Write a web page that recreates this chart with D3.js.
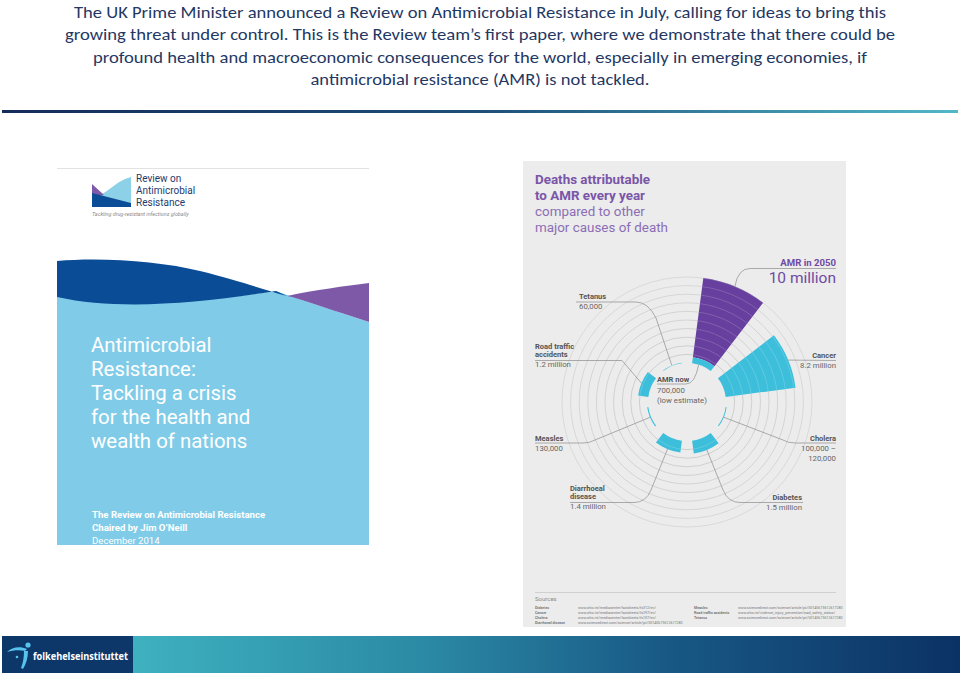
<!DOCTYPE html>
<meta charset="utf-8">
<style>
body { margin: 0; background: #fff; }
svg { display: block; }
.hdr { font-family: Carlito, Lato, sans-serif; font-size: 16.5px; fill: #1f3864; }
.ig { font-family: Roboto, 'Open Sans', sans-serif; }
.lab { font-weight: bold; font-size: 7.5px; fill: #555; }
.val { font-size: 7.8px; fill: #666; }
.lead { fill: none; stroke: #8c8c8c; stroke-width: 0.7; }
.src { font-size: 3.6px; fill: #777; }
</style>
<body>
<script src="https://d3js.org/d3.v7.min.js"></script>
<script>
// ---- data ----
var causes = ["AMR", "Cancer", "Cholera", "Diabetes", "Diarrhoeal disease", "Measles", "Road traffic accidents", "Tetanus"];
var deathsNow = [0.7, 8.2, 0.11, 1.5, 1.4, 0.13, 1.2, 0.06];   // millions per year
var amr2050 = 10;                                               // millions per year
var headerLines = [
  "The UK Prime Minister announced a Review on Antimicrobial Resistance in July, calling for ideas to bring this",
  "growing threat under control. This is the Review team\u2019s first paper, where we demonstrate that there could be",
  "profound health and macroeconomic consequences for the world, especially in emerging economies, if",
  "antimicrobial resistance (AMR) is not tackled."
];
var coverTitle = ["Antimicrobial", "Resistance:", "Tackling a crisis", "for the health and", "wealth of nations"];
var sourcesLeft = [
  ["Diabetes", "www.who.int/mediacentre/factsheets/fs312/en/"],
  ["Cancer", "www.who.int/mediacentre/factsheets/fs297/en/"],
  ["Cholera", "www.who.int/mediacentre/factsheets/fs107/en/"],
  ["Diarrhoeal disease", "www.sciencedirect.com/science/article/pii/S0140673612617280"]
];
var sourcesRight = [
  ["Measles", "www.sciencedirect.com/science/article/pii/S0140673612617280"],
  ["Road traffic accidents", "www.who.int/violence_injury_prevention/road_safety_status/"],
  ["Tetanus", "www.sciencedirect.com/science/article/pii/S0140673612617280"]
];

var W = 960, H = 674;
var svg = d3.select('body').append('svg').attr('width', W).attr('height', H);
var defs = svg.append('defs');

// ---- header ----
var hdrWidths = [812, 830, 774, 339];
svg.selectAll('text.hdr').data(headerLines).enter().append('text')
  .attr('class', 'hdr')
  .attr('x', 480)
  .attr('y', function(d, i) { return 18 + i * 22.3; })
  .attr('text-anchor', 'middle')
  .attr('textLength', function(d, i) { return hdrWidths[i]; })
  .attr('lengthAdjust', 'spacingAndGlyphs')
  .text(function(d) { return d; });

var lg = defs.append('linearGradient').attr('id', 'rule');
lg.append('stop').attr('offset', 0).attr('stop-color', '#142c5a');
lg.append('stop').attr('offset', 0.5).attr('stop-color', '#1d4e78');
lg.append('stop').attr('offset', 1).attr('stop-color', '#52b8c6');
svg.append('rect').attr('x', 2).attr('y', 110).attr('width', 956).attr('height', 3).attr('fill', 'url(#rule)');

// ---- cover (left) ----
var cover = svg.append('g');
cover.append('line').attr('x1', 57).attr('x2', 369).attr('y1', 168.5).attr('y2', 168.5)
  .attr('stroke', '#e2e2e2').attr('stroke-width', 1);
cover.append('path').attr('fill', '#80cce8')
  .attr('d', 'M57,296 C120,310 200,302 276,291 L290,296 C320,306 345,314 369,322 L369,545 L57,545 Z');
cover.append('path').attr('fill', '#0b4c96')
  .attr('d', 'M57,261 C100,257 160,261 200,271 C240,281 265,290 287,296 L276,291 C200,303 120,311 57,297 Z');
cover.append('path').attr('fill', '#7d59a8')
  .attr('d', 'M287,296 C315,290 345,286 369,283 L369,322 C345,314 320,306 292,297 Z');

// logo
cover.append('rect').attr('x', 92).attr('y', 176).attr('width', 39).attr('height', 31).attr('fill', '#8dd1e8');
cover.append('path').attr('fill', '#fff').attr('d', 'M92,176 L131,176 L131,177 C118,180 110,190 99,196 L92,196 Z');
cover.append('path').attr('fill', '#7d59a8').attr('d', 'M92,184 L104,195 L92,197 Z');
cover.append('path').attr('fill', '#0b4c96').attr('d', 'M92,193 C105,196 118,200 131,203 L131,207 L92,207 Z');
cover.selectAll('text.logo').data(["Review on", "Antimicrobial", "Resistance"]).enter().append('text')
  .attr('class', 'ig').attr('x', 136).attr('y', function(d, i) { return 182 + i * 11.8; })
  .attr('font-size', 10).attr('fill', '#1d3b6e').text(function(d) { return d; });
cover.append('text').attr('class', 'ig').attr('x', 92).attr('y', 216).attr('font-size', 5.4)
  .attr('font-style', 'italic').attr('fill', '#8a8a8a').text('Tackling drug-resistant infections globally');

cover.selectAll('text.ttl').data(coverTitle).enter().append('text')
  .attr('class', 'ig').attr('x', 91).attr('y', function(d, i) { return 352 + i * 24; })
  .attr('font-size', 20.4).attr('fill', '#fff').text(function(d) { return d; });
cover.append('text').attr('class', 'ig').attr('x', 92).attr('y', 518).attr('font-size', 9.6)
  .attr('font-weight', 'bold').attr('fill', '#fff').text('The Review on Antimicrobial Resistance');
cover.append('text').attr('class', 'ig').attr('x', 92).attr('y', 531).attr('font-size', 9.6)
  .attr('font-weight', 'bold').attr('fill', '#fff').text('Chaired by Jim O\u2019Neill');
cover.append('text').attr('class', 'ig').attr('x', 92).attr('y', 544).attr('font-size', 9.6)
  .attr('fill', '#fff').text('December 2014');

// ---- infographic panel (right) ----
var panel = svg.append('g').attr('class', 'ig');
panel.append('rect').attr('x', 523).attr('y', 161).attr('width', 323).attr('height', 466).attr('fill', '#ececec');

panel.append('text').attr('x', 535).attr('y', 184).attr('font-size', 13.4).attr('font-weight', 'bold')
  .attr('fill', '#7a55a8').text('Deaths attributable');
panel.append('text').attr('x', 535).attr('y', 200).attr('font-size', 13.4).attr('font-weight', 'bold')
  .attr('fill', '#7a55a8').text('to AMR every year');
panel.append('text').attr('x', 535).attr('y', 216).attr('font-size', 13.4)
  .attr('fill', '#8b6cb5').text('compared to other');
panel.append('text').attr('x', 535).attr('y', 232).attr('font-size', 13.4)
  .attr('fill', '#8b6cb5').text('major causes of death');

var cx = 687, cy = 402;
var r = d3.scaleLinear().domain([0, amr2050]).range([39, 125]);
var a = d3.scaleBand().domain(causes).range([0, 2 * Math.PI]).paddingInner(1 / 3).paddingOuter(1 / 6);
function mid(c) { return a(c) + a.bandwidth() / 2; }
function pt(ang, rad) { return [cx + rad * Math.sin(ang), cy - rad * Math.cos(ang)]; }

var rose = panel.append('g').attr('transform', 'translate(' + cx + ',' + cy + ')');
var rings = r.ticks(10).filter(function(t) { return t > 0; });
rose.selectAll('circle.ring').data(rings).enter().append('circle')
  .attr('r', function(d) { return r(d); })
  .attr('fill', 'none').attr('stroke', '#c4c4c4').attr('stroke-width', 0.8)
  .attr('stroke-opacity', function(d) { return 1 - d * 0.04; });

var arc = d3.arc()
  .innerRadius(function(d) { return r(d.from); })
  .outerRadius(function(d) { return r(d.to); })
  .startAngle(function(d) { return a(d.cause); })
  .endAngle(function(d) { return a(d.cause) + a.bandwidth(); });

var bars = causes.map(function(c, i) { return { cause: c, from: 0, to: deathsNow[i], color: '#3dbfdb' }; });
var future = { cause: 'AMR', from: deathsNow[0], to: amr2050, color: '#673f9e' };
var allBars = [future].concat(bars);

var clip = defs.append('clipPath').attr('id', 'barclip');
clip.selectAll('path').data(allBars).enter().append('path').attr('d', arc);

rose.selectAll('path.bar').data(allBars).enter().append('path')
  .attr('class', 'bar').attr('d', arc).attr('fill', function(d) { return d.color; });
rose.append('g').attr('clip-path', 'url(#barclip)')
  .selectAll('circle').data(rings).enter().append('circle')
  .attr('r', function(d) { return r(d); })
  .attr('fill', 'none').attr('stroke', '#ffffff').attr('stroke-opacity', 0.22).attr('stroke-width', 0.8);

// leader lines
function leader(start, rest) {
  var p = d3.path();
  p.moveTo(start[0], start[1]);
  rest.forEach(function(s) {
    if (s.length === 4) p.quadraticCurveTo(s[0], s[1], s[2], s[3]);
    else p.lineTo(s[0], s[1]);
  });
  return p.toString();
}
var leaders = [
  leader(pt(mid('AMR'), r(amr2050)), [[738, 268.5, 750, 268.5], [836, 268.5]]),
  leader(pt(mid('Tetanus'), r(0) + 1), [[656, 318], [648, 302, 636, 302], [576, 302]]),
  leader(pt(mid('Road traffic accidents'), r(deathsNow[6])), [[622, 360.5], [535, 360.5]]),
  leader(pt(mid('Cancer'), r(deathsNow[1])), [[836, 360.5]]),
  leader(pt(mid('AMR') - 0.09, r(0)), [[695, 384, 686, 384], [657, 384]]),
  leader(pt(mid('Measles'), r(deathsNow[5])), [[595, 440], [590, 443, 583, 443], [535, 443]]),
  leader(pt(mid('Cholera'), r(deathsNow[2])), [[783, 440], [788, 443, 795, 443], [836, 443]]),
  leader(pt(mid('Diarrhoeal disease'), r(deathsNow[4])), [[651, 490], [646, 502.5, 634, 502.5], [570, 502.5]]),
  leader(pt(mid('Diabetes'), r(deathsNow[3])), [[723, 490], [728, 502.5, 740, 502.5], [803, 502.5]])
];
panel.selectAll('path.lead').data(leaders).enter().append('path').attr('class', 'lead').attr('d', function(d) { return d; });

// labels
function label(x, y, anchor, bold, vals) {
  var g = panel.append('g').attr('text-anchor', anchor);
  bold.forEach(function(t, i) {
    g.append('text').attr('class', 'lab').attr('x', x).attr('y', y + i * 8.8).text(t);
  });
  var y0 = y + (bold.length - 1) * 8.8 + 10;
  vals.forEach(function(t, i) {
    g.append('text').attr('class', 'val').attr('x', x).attr('y', y0 + i * 9.5).text(t);
  });
}
label(579, 299, 'start', ['Tetanus'], ['60,000']);
label(535, 348.5, 'start', ['Road traffic', 'accidents'], ['1.2 million']);
label(836, 357.5, 'end', ['Cancer'], ['8.2 million']);
label(535, 441, 'start', ['Measles'], ['130,000']);
label(836, 441, 'end', ['Cholera'], ['100,000 \u2013', '120,000']);
label(570, 490.5, 'start', ['Diarrhoeal', 'disease'], ['1.4 million']);
label(802, 499.5, 'end', ['Diabetes'], ['1.5 million']);

panel.append('text').attr('class', 'lab').attr('x', 657).attr('y', 382).attr('fill', '#444').text('AMR now');
panel.append('text').attr('class', 'val').attr('x', 657).attr('y', 393).text('700,000');
panel.append('text').attr('class', 'val').attr('x', 657).attr('y', 403).text('(low estimate)');

panel.append('text').attr('x', 836).attr('y', 266).attr('text-anchor', 'end').attr('font-size', 9.6)
  .attr('font-weight', 'bold').attr('fill', '#6f4aa3').text('AMR in 2050');
panel.append('text').attr('x', 836).attr('y', 283).attr('text-anchor', 'end').attr('font-size', 15.5)
  .attr('fill', '#6f4aa3').text('10 million');

// sources
panel.append('line').attr('x1', 535).attr('x2', 836).attr('y1', 592.5).attr('y2', 592.5)
  .attr('stroke', '#c4c4c4').attr('stroke-width', 0.7);
panel.append('text').attr('x', 535).attr('y', 601).attr('font-size', 6).attr('fill', '#8a8a8a').text('Sources');
function sourceCol(list, xl, xu) {
  list.forEach(function(s, i) {
    panel.append('text').attr('class', 'src').attr('font-weight', 'bold').attr('x', xl).attr('y', 609 + i * 5).text(s[0]);
    panel.append('text').attr('class', 'src').attr('x', xu).attr('y', 609 + i * 5).text(s[1]);
  });
}
sourceCol(sourcesLeft, 535, 578);
sourceCol(sourcesRight, 694, 738);

// ---- footer ----
var fg = defs.append('linearGradient').attr('id', 'foot');
fg.append('stop').attr('offset', 0).attr('stop-color', '#3eb1bf');
fg.append('stop').attr('offset', 0.35).attr('stop-color', '#2b8aa5');
fg.append('stop').attr('offset', 0.65).attr('stop-color', '#185885');
fg.append('stop').attr('offset', 1).attr('stop-color', '#0b3264');
svg.append('rect').attr('x', 133).attr('y', 636).attr('width', 827).attr('height', 37).attr('fill', 'url(#foot)');
svg.append('rect').attr('x', 2).attr('y', 636).attr('width', 131).attr('height', 37).attr('fill', '#0e3769');
svg.append('path').attr('fill', '#56c3ee')
  .attr('d', 'M7,652 C12,647 20,646 27,649 L25,651 C20,650 14,650 7,652 Z');
svg.append('path').attr('fill', '#56c3ee')
  .attr('d', 'M24,651 L28,651 C28,658 26,664 23,669 L21,668 C23,663 24,657 24,651 Z');
svg.append('circle').attr('cx', 28).attr('cy', 645).attr('r', 2.6).attr('fill', '#56c3ee');
svg.append('circle').attr('cx', 17).attr('cy', 657).attr('r', 1.3).attr('fill', '#56c3ee');
svg.append('text').attr('x', 33).attr('y', 660).attr('font-family', "'Liberation Sans Narrow', 'Open Sans', sans-serif")
  .attr('font-size', 10).attr('font-weight', 'bold').attr('fill', '#fff')
  .attr('textLength', 95).attr('lengthAdjust', 'spacingAndGlyphs').text('folkehelseinstituttet');
</script>
</body>
